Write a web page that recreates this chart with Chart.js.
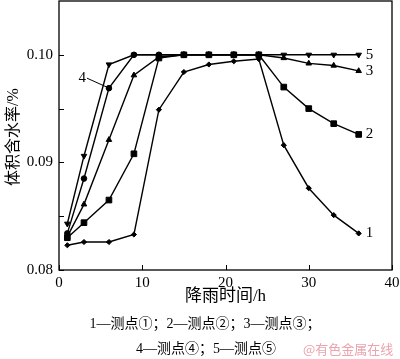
<!DOCTYPE html>
<html>
<head>
<meta charset="utf-8">
<script src="https://cdn.jsdelivr.net/npm/chart.js@4"></script>
<style>
  html, body { margin: 0; padding: 0; background: #fff; }
  #wrap { width: 400px; height: 359px; }
</style>
</head>
<body>
<div id="wrap"><canvas id="myChart" width="400" height="359"></canvas></div>
<script>
// 数据
const hours = [1, 3, 6, 9, 12, 15, 18, 21, 24, 27, 30, 33, 36];
const point1 = [0.0823, 0.0826, 0.0826, 0.0833, 0.0949, 0.0984, 0.0991, 0.0994, 0.0996, 0.0916, 0.0876, 0.0851, 0.0834];
const point2 = [0.0830, 0.0844, 0.0865, 0.0908, 0.0997, 0.1000, 0.1000, 0.1000, 0.1000, 0.0970, 0.0950, 0.0936, 0.0926];
const point3 = [0.0831, 0.0861, 0.0921, 0.0981, 0.0998, 0.1000, 0.1000, 0.1000, 0.1000, 0.0997, 0.0992, 0.0990, 0.0985];
const point4 = [0.0834, 0.0885, 0.0969, 0.1000, 0.1000, 0.1000, 0.1000, 0.1000, 0.1000];
const point5 = [0.0843, 0.0906, 0.0991, 0.1000, 0.1000, 0.1000, 0.1000, 0.1000, 0.1000, 0.1000, 0.1000, 0.1000, 0.1000];
const xTicks = [0, 10, 20, 30, 40];
const yTicks = [0.08, 0.085, 0.09, 0.095, 0.10];
const seriesLabels = ['1', '2', '3', '4', '5'];
const xTitle = '降雨时间/h';
const yTitle = '体积含水率/%';
const legendLine1 = '1—测点①；2—测点②；3—测点③；';
const legendLine2 = '4—测点④；5—测点⑤';
const watermark = '@有色金属在线';

const serif = '"Liberation Serif", "Noto Sans CJK SC", serif';

function toPoints(values) {
    return values.map(function (v, i) { return { x: hours[i], y: v }; });
}

function makeSet(values, style, rotation, radius, order) {
    return {
        data: toPoints(values),
        order: order,
        borderColor: '#000',
        backgroundColor: '#000',
        borderWidth: 1.4,
        pointStyle: style,
        pointRotation: rotation,
        pointRadius: radius,
        pointBorderWidth: 1,
        tension: 0
    };
}

// 文字与边框
const decoPlugin = {
    id: 'deco',
    afterDraw: function (chart) {
        const c = chart.ctx;
        const a = chart.chartArea;
        const xs = chart.scales.x;
        const ys = chart.scales.y;
        c.save();
        c.strokeStyle = '#000';
        c.lineWidth = 1.3;
        c.strokeRect(a.left, a.top, a.right - a.left, a.bottom - a.top);

        // 刻度朝内
        c.lineWidth = 1;
        c.beginPath();
        yTicks.forEach(function (v) {
            const py = Math.round(ys.getPixelForValue(v)) + 0.5;
            c.moveTo(a.left, py);
            c.lineTo(a.left + 5, py);
        });
        xTicks.forEach(function (v) {
            const px = Math.round(xs.getPixelForValue(v)) + 0.5;
            c.moveTo(px, a.bottom);
            c.lineTo(px, a.bottom - 5);
        });
        c.stroke();

        // 曲线编号
        c.fillStyle = '#000';
        c.font = '15px ' + serif;
        c.textBaseline = 'middle';
        c.textAlign = 'left';
        const last = hours.length - 1;
        const ends = [[point1, 0], [point2, 1], [point3, 2], [point5, 4]];
        ends.forEach(function (e) {
            const px = xs.getPixelForValue(hours[last]);
            const py = ys.getPixelForValue(e[0][last]);
            c.fillText(seriesLabels[e[1]], px + 7, py);
        });
        // 4 号引线
        const p4x = xs.getPixelForValue(hours[2]);
        const p4y = ys.getPixelForValue(point4[2]);
        c.beginPath();
        c.moveTo(p4x - 2, p4y - 1);
        c.lineTo(p4x - 22, p4y - 10);
        c.stroke();
        c.textAlign = 'right';
        c.fillText(seriesLabels[3], p4x - 23, p4y - 10);

        // 坐标轴标题
        c.textAlign = 'center';
        c.font = '17px ' + serif;
        c.fillText(xTitle, (a.left + a.right) / 2, 297);
        c.save();
        c.translate(14, 137);
        c.rotate(-Math.PI / 2);
        c.font = '16px ' + serif;
        c.fillText(yTitle, 0, 0);
        c.restore();

        // 图注
        c.font = '14px ' + serif;
        c.fillText(legendLine1, 205, 324);
        c.fillText(legendLine2, 206, 349);
        c.fillStyle = '#eba3ad';
        c.font = '13px "Noto Sans CJK SC", sans-serif';
        c.textAlign = 'left';
        c.fillText(watermark, 303, 349);
        c.restore();
    }
};

function noPad(scale) {
    scale.paddingTop = 0;
    scale.paddingBottom = 0;
    scale.paddingLeft = 0;
    scale.paddingRight = 0;
}

const ctx = document.getElementById('myChart').getContext('2d');
const myChart = new Chart(ctx, {
    type: 'line',
    data: {
        datasets: [
            makeSet(point1, 'rectRot', 0, 2.6, 1),
            makeSet(point2, 'rect', 0, 4, 0),
            makeSet(point3, 'triangle', 0, 3.2, 2),
            makeSet(point4, 'circle', 0, 2.8, 4),
            makeSet(point5, 'triangle', 180, 3.2, 3)
        ]
    },
    options: {
        responsive: false,
        animation: false,
        layout: {
            autoPadding: false,
            padding: { left: 0, right: 8, top: 1, bottom: 0 }
        },
        scales: {
            x: {
                type: 'linear',
                min: 0,
                max: 40,
                grid: { display: false, drawTicks: false },
                border: { display: false },
                afterFit: function (scale) { scale.height = 89; noPad(scale); },
                afterBuildTicks: function (scale) {
                    scale.ticks = xTicks.map(function (v) { return { value: v }; });
                },
                ticks: {
                    color: '#000',
                    padding: 4,
                    maxRotation: 0,
                    font: { family: serif, size: 15 }
                }
            },
            y: {
                min: 0.08,
                max: 0.105,
                grid: { display: false, drawTicks: false },
                border: { display: false },
                afterFit: function (scale) { scale.width = 59; noPad(scale); },
                afterBuildTicks: function (scale) {
                    scale.ticks = yTicks.map(function (v) { return { value: v }; });
                },
                ticks: {
                    color: '#000',
                    padding: 6,
                    font: { family: serif, size: 15 },
                    callback: function (value) {
                        const k = Math.round(value * 1000);
                        return k % 10 === 0 ? (k / 1000).toFixed(2) : '';
                    }
                }
            }
        },
        plugins: {
            legend: { display: false },
            tooltip: { enabled: false }
        }
    },
    plugins: [decoPlugin]
});
</script>
</body>
</html>
